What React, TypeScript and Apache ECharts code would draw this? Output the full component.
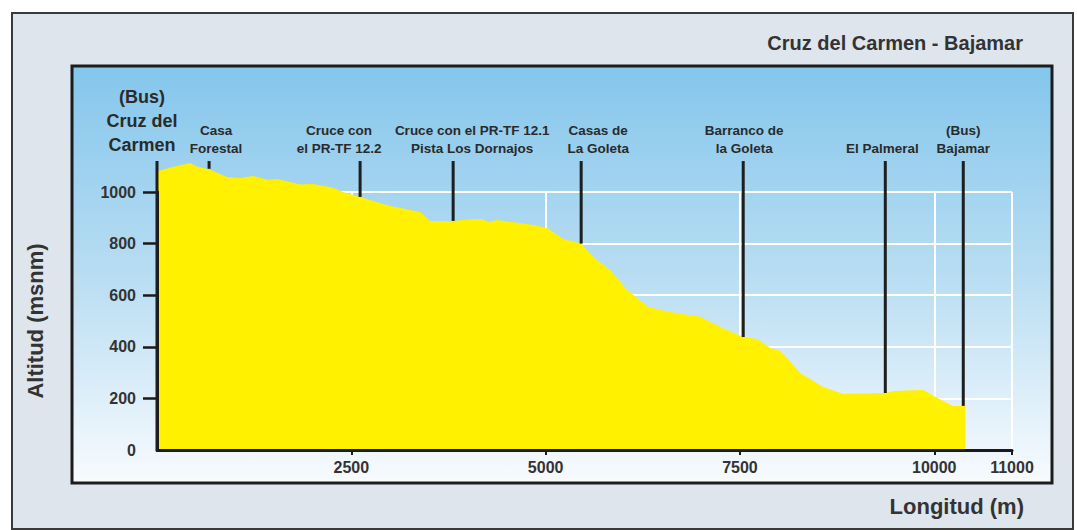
import React, { useEffect, useRef } from 'react';
import * as echarts from 'echarts';

// Elevation profile (distance in m, altitude in m above sea level)
const distances = [0, 200, 425, 530, 670, 900, 1070, 1240, 1420, 1550, 1840, 2010, 2265, 2395, 2613, 3000, 3385, 3515, 3810, 4065, 4185, 4260, 4375, 4840, 5020, 5225, 5457, 5611, 5830, 6050, 6320, 6600, 6990, 7245, 7542, 7720, 7890, 8020, 8150, 8275, 8570, 8830, 9370, 9470, 9860, 10040, 10245, 10400];
const altitudes = [1080, 1097, 1112, 1097, 1088, 1058, 1054, 1062, 1047, 1050, 1029, 1031, 1016, 1000, 981, 946, 922, 888, 888, 895, 895, 884, 891, 872, 860, 818, 800, 748, 698, 620, 554, 535, 516, 477, 438, 430, 395, 385, 341, 298, 244, 217, 221, 229, 233, 202, 171, 171];

// Waypoints
const markerNames = [
  '(Bus)\nCruz del\nCarmen',
  'Casa\nForestal',
  'Cruce con\nel PR-TF 12.2',
  'Cruce con el PR-TF 12.1\nPista Los Dornajos',
  'Casas de\nLa Goleta',
  'Barranco de\nla Goleta',
  'El Palmeral',
  '(Bus)\nBajamar',
];
const markerDistances = [0, 670, 2613, 3810, 5457, 7542, 9370, 10373];
const markerBases = [0, 1090, 981, 888, 800, 438, 221, 171];
const markerTop = 1120;

// Axis ticks
const xTickValues = [2500, 5000, 7500, 10000, 11000];
const yTickValues = [0, 200, 400, 600, 800, 1000];
const yTickMarks = [200, 400, 600, 800, 1000];

const titleText = 'Cruz del Carmen - Bajamar';
const xName = 'Longitud (m)';
const yName = 'Altitud (msnm)';

// layout only: horizontal nudges of waypoint labels (px)
const labelShift = [-15, 7, -21, 19, 17, 1, -3, 0];

const FONT = "'Liberation Sans', Arial, sans-serif";
const INK = '#1a1a1a';

export default function App() {
  const ref = useRef<HTMLDivElement>(null);
  useEffect(() => {
    if (!ref.current) return;
    const chart = echarts.init(ref.current, undefined, { renderer: 'svg' });
    const profile = distances.map((d, i) => [d, altitudes[i]]);
    const markers = markerDistances.map((d, i) => [d, markerBases[i], markerTop]);
    const plain = (v: number) => String(v);
    const gridLine = { show: true, lineStyle: { color: '#ffffff', width: 2 } };
    chart.setOption({
      animation: false,
      backgroundColor: '#ffffff',
      title: {
        text: titleText,
        right: 54,
        top: 33,
        padding: 0,
        textStyle: { fontSize: 20, fontWeight: 'bold', color: '#333', fontFamily: FONT },
      },
      graphic: [
        {
          type: 'rect',
          z: -10,
          silent: true,
          shape: { x: 12, y: 13, width: 1061, height: 516 },
          style: { fill: '#dfe5ec', stroke: '#3a3a3a', lineWidth: 2 },
        },
        {
          type: 'rect',
          z: -9,
          silent: true,
          shape: { x: 72, y: 66, width: 980, height: 417 },
          style: {
            fill: new echarts.graphic.LinearGradient(0, 0, 0, 1, [
              { offset: 0, color: '#84c6ec' },
              { offset: 0.5, color: '#b8ddf2' },
              { offset: 1, color: '#f8fbfe' },
            ]),
            stroke: '#1c1c1c',
            lineWidth: 3,
          },
        },
      ],
      grid: { left: 157, right: 65, top: 192, bottom: 80, outerBoundsMode: 'none', containLabel: false },
      xAxis: [
        {
          type: 'value',
          min: 0,
          max: 11000,
          interval: 2500,
          position: 'bottom',
          axisLine: { show: false },
          axisTick: { show: false },
          axisLabel: { show: false },
          splitLine: gridLine,
          z: 0,
        },
        {
          type: 'value',
          min: 0,
          max: 11000,
          interval: 2500,
          position: 'bottom',
          offset: 0,
          z: 4,
          name: xName,
          nameLocation: 'end',
          nameGap: 12,
          nameTextStyle: {
            align: 'right',
            verticalAlign: 'top',
            padding: [45, 0, 0, 0],
            fontSize: 22,
            fontWeight: 'bold',
            color: '#333',
            fontFamily: FONT,
          },
          axisLine: { show: true, lineStyle: { color: INK, width: 3 } },
          axisTick: { show: true, customValues: xTickValues, length: 5, lineStyle: { color: INK, width: 2 } },
          axisLabel: { customValues: xTickValues, formatter: plain, margin: 9, fontSize: 16, fontWeight: 'bold', color: '#333', fontFamily: FONT },
          splitLine: { show: false },
        },
      ],
      yAxis: [
        {
          type: 'value',
          min: 0,
          max: 1000,
          interval: 200,
          position: 'left',
          axisLine: { show: false },
          axisTick: { show: false },
          axisLabel: { show: false },
          splitLine: gridLine,
          z: 0,
        },
        {
          type: 'value',
          min: 0,
          max: 1000,
          interval: 200,
          position: 'left',
          offset: 0,
          z: 4,
          name: yName,
          nameLocation: 'middle',
          nameGap: 111,
          nameRotate: 90,
          nameTextStyle: { fontSize: 22, fontWeight: 'bold', color: '#333', fontFamily: FONT },
          axisLine: { show: true, lineStyle: { color: INK, width: 3 } },
          axisTick: { show: true, customValues: yTickMarks, length: 14, lineStyle: { color: INK, width: 2.5 } },
          axisLabel: { customValues: yTickValues, formatter: plain, margin: 21, fontSize: 16, fontWeight: 'bold', color: '#333', fontFamily: FONT },
          splitLine: { show: false },
        },
      ],
      series: [
        {
          type: 'line',
          xAxisIndex: 0,
          yAxisIndex: 0,
          data: profile,
          clip: false,
          showSymbol: false,
          symbol: 'none',
          lineStyle: { width: 0, color: '#fff100' },
          areaStyle: { color: '#fff100', opacity: 1 },
          z: 2,
        },
        {
          type: 'custom',
          xAxisIndex: 0,
          yAxisIndex: 0,
          data: markers,
          clip: false,
          z: 5,
          encode: { x: 0, y: [1, 2] },
          renderItem: (params: any, api: any) => {
            const i = params.dataIndex;
            const x = api.value(0);
            const b = api.value(1);
            const t = api.value(2);
            const p0 = api.coord([x, b]);
            const p1 = api.coord([x, t]);
            const big = i === 0;
            return {
              type: 'group',
              children: [
                {
                  type: 'line',
                  shape: { x1: p0[0], y1: p0[1], x2: p1[0], y2: p1[1] },
                  style: { stroke: '#1e1e1e', lineWidth: 3 },
                },
                {
                  type: 'text',
                  x: p1[0] + labelShift[i],
                  y: p1[1] - 4,
                  style: {
                    text: markerNames[i],
                    align: 'center',
                    verticalAlign: 'bottom',
                    fontSize: big ? 18 : 13.5,
                    lineHeight: big ? 24 : 18,
                    fontWeight: 'bold',
                    fontFamily: FONT,
                    fill: '#2a2a2a',
                  },
                },
              ],
            };
          },
        },
      ],
    });
    return () => chart.dispose();
  }, []);
  return (
    <div
      ref={ref}
      style={{ position: 'fixed', left: 0, top: 0, width: 1077, height: 530 }}
    />
  );
}
